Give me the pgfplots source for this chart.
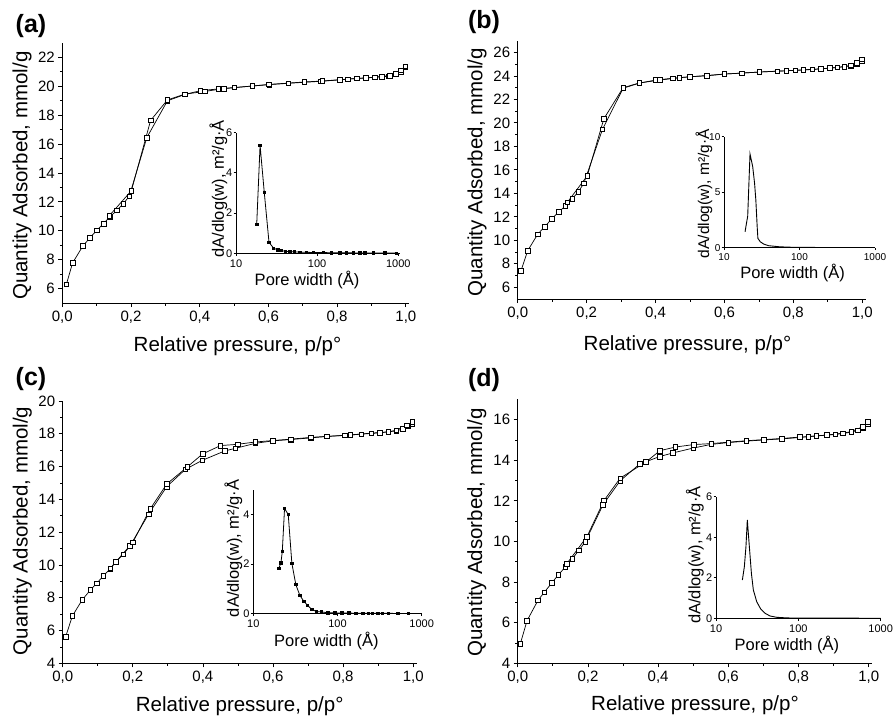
\documentclass[border=0pt]{standalone}
\usepackage{fontspec}
\setmainfont{Liberation Sans}
\usepackage{pgfplots}
\pgfplotsset{compat=1.18}
\pgfplotsset{
  mainax/.style={scale only axis, axis lines*=left, tick align=outside,
    xmin=0, xmax=1.01, xtick={0,0.2,0.4,0.6,0.8,1}, minor x tick num=1, minor y tick num=1,
    major tick length=4pt, minor tick length=2.5pt,
    /pgf/number format/assume math mode=true,
    tick label style={font=\fontsize{15}{15}\selectfont},
    x tick label style={/pgf/number format/fixed,/pgf/number format/fixed zerofill,/pgf/number format/precision=1,/pgf/number format/use comma},
    label style={font=\fontsize{20.5}{20.5}\selectfont, inner sep=0pt, anchor=center},
    axis line style={line width=0.9pt}, every tick/.style={black, line width=0.8pt},
    xlabel={Relative pressure, p/p°}, ylabel={Quantity Adsorbed, mmol/g}},
  iso/.style={black, line width=0.7pt, mark=square*, mark size=2.3pt, mark options={fill=white, line width=0.6pt, solid}},
  psdax/.style={scale only axis, axis lines*=left, tick align=outside, xmin=10, xmax=1000,
    xtick={10,100,1000}, xticklabels={10,100,1000}, xminorticks=false, yminorticks=false,
    major tick length=2.5pt,
    /pgf/number format/assume math mode=true,
    tick label style={font=\fontsize{11}{11}\selectfont, inner sep=1pt},
    x tick label style={yshift=-2.5pt},
    label style={font=\fontsize{16.5}{16.5}\selectfont, inner sep=0pt, anchor=center},
    axis line style={line width=0.9pt}, every tick/.style={black, line width=0.8pt},
    xlabel={Pore width (Å)}, ylabel={dA/dlog(w), m²/g·Å}},
  psd/.style={black, line width=0.8pt, mark=square*, mark size=1.2pt, mark options={fill=black}},
  psdl/.style={black, line width=0.9pt, no marks},
}
\begin{document}
\begin{tikzpicture}
\path[use as bounding box] (0,0) rectangle (893pt,-718pt);
% ---------------- (a) ----------------
\begin{axis}[mainax, at={(62.3pt,-303pt)}, anchor=south west, width=347pt, height=260pt,
  ymin=5, ymax=23, ytick={6,8,...,22},
  xlabel style={at={(axis description cs:0.505,-0.168)}},
  ylabel style={at={(axis description cs:-0.116,0.49)}}]
\addplot[iso] coordinates {
(0.012,6.3)(0.030,7.78)(0.060,8.95)(0.080,9.5)(0.100,10.03)(0.120,10.5)(0.139,10.97)(0.159,11.42)(0.178,11.88)(0.195,12.4)(0.246,16.45)(0.306,19.0)(0.357,19.44)(0.402,19.70)(0.454,19.82)(0.501,19.92)(0.553,20.02)(0.602,20.12)(0.658,20.21)(0.704,20.28)(0.753,20.35)(0.808,20.45)(0.857,20.55)(0.909,20.62)(0.949,20.70)(0.971,20.82)(0.986,21.0)(0.998,21.35)};
\addplot[iso] coordinates {
(0.998,21.4)(0.986,21.1)(0.971,20.88)(0.953,20.75)(0.930,20.68)(0.883,20.58)(0.831,20.50)(0.757,20.37)(0.704,20.30)(0.601,20.13)(0.470,19.84)(0.415,19.65)(0.357,19.46)(0.306,19.06)(0.257,17.64)(0.201,12.77)(0.137,11.05)};
\end{axis}
\begin{semilogxaxis}[psdax, at={(236pt,-253.3pt)}, anchor=south west, width=164pt, height=120.7pt,
  xmax=1050, ymin=0, ymax=6, ytick={0,2,4,6},
  xlabel style={at={(axis description cs:0.433,-0.221)}},
  ylabel style={at={(axis description cs:-0.108,0.533)}}]
\addplot[psd] coordinates {
(18.0,1.44)(19.8,5.37)(22.3,3.03)(25.5,0.55)(29.1,0.25)(32.9,0.17)(36.5,0.13)(40.9,0.10)(46.2,0.08)(52.8,0.07)(61.5,0.06)(74.3,0.05)(89.8,0.04)(119,0.035)(151,0.03)(191,0.03)(231,0.025)(279,0.02)(337,0.02)(388,0.02)(492,0.015)(685,0.015)(953,0.01)};
\end{semilogxaxis}
% ---------------- (b) ----------------
\begin{axis}[mainax, at={(517.7pt,-299pt)}, anchor=south west, width=348pt, height=258.3pt,
  ymin=5, ymax=27, ytick={6,8,...,26},
  xlabel style={at={(axis description cs:0.488,-0.177)}},
  ylabel style={at={(axis description cs:-0.117,0.49)}}]
\addplot[iso] coordinates {
(0.0097,7.42)(0.029,9.12)(0.058,10.51)(0.078,11.16)(0.099,11.82)(0.119,12.41)(0.138,12.92)(0.159,13.55)(0.176,14.14)(0.192,14.85)(0.246,19.45)(0.306,22.95)(0.353,23.39)(0.401,23.65)(0.45,23.8)(0.499,23.93)(0.549,24.01)(0.600,24.16)(0.651,24.24)(0.701,24.33)(0.753,24.41)(0.806,24.47)(0.855,24.55)(0.906,24.67)(0.948,24.78)(0.967,24.87)(0.984,25.0)(0.998,25.3)};
\addplot[iso] coordinates {
(0.998,25.42)(0.984,25.1)(0.967,24.9)(0.928,24.72)(0.88,24.6)(0.829,24.52)(0.78,24.44)(0.701,24.33)(0.600,24.16)(0.469,23.85)(0.413,23.65)(0.353,23.40)(0.306,23.0)(0.25,20.35)(0.202,15.5)(0.144,13.23)};
\end{axis}
\begin{semilogxaxis}[psdax, at={(724pt,-247.7pt)}, anchor=south west, width=151pt, height=111pt,
  ymin=0, ymax=10, ytick={0,5,10},
  tick label style={font=\fontsize{10}{10}\selectfont, inner sep=1pt},
  xlabel style={at={(axis description cs:0.454,-0.225)}},
  ylabel style={at={(axis description cs:-0.132,0.488)}, font=\fontsize{15.5}{15.5}\selectfont}]
\addplot[psdl] coordinates {
(19.0,1.44)(20.6,2.85)(22.1,8.44)(24.0,7.3)(25.4,5.8)(26.4,4.3)(27.5,1.9)(28.1,0.84)(30.2,0.54)(33.5,0.33)(39,0.18)(53,0.09)(70,0.05)(100,0.03)(200,0.02)(400,0.01)(700,0.01)(950,0.01)};
\end{semilogxaxis}
% ---------------- (c) ----------------
\begin{axis}[mainax, at={(62.7pt,-663.3pt)}, anchor=south west, width=354pt, height=262.3pt,
  ymin=4, ymax=20, ytick={4,6,...,20},
  xlabel style={at={(axis description cs:0.50,-0.162)}},
  ylabel style={at={(axis description cs:-0.114,0.505)}}]
\addplot[iso] coordinates {
(0.0086,5.63)(0.0276,6.89)(0.056,7.88)(0.079,8.47)(0.097,8.88)(0.116,9.33)(0.136,9.77)(0.152,10.2)(0.173,10.65)(0.192,11.16)(0.245,13.1)(0.297,14.78)(0.35,15.83)(0.398,16.38)(0.462,16.95)(0.492,17.11)(0.55,17.42)(0.6,17.57)(0.65,17.65)(0.707,17.75)(0.754,17.84)(0.805,17.90)(0.852,17.98)(0.905,18.06)(0.952,18.18)(0.971,18.30)(0.986,18.45)(0.997,18.62)};
\addplot[iso] coordinates {
(0.997,18.72)(0.982,18.52)(0.952,18.22)(0.929,18.12)(0.881,18.04)(0.82,17.93)(0.707,17.78)(0.65,17.67)(0.6,17.59)(0.55,17.5)(0.499,17.36)(0.45,17.28)(0.399,16.77)(0.355,15.97)(0.297,14.94)(0.25,13.43)(0.2,11.38)(0.136,9.8)};
\end{axis}
\begin{semilogxaxis}[psdax, at={(253.3pt,-613.7pt)}, anchor=south west, width=168.4pt, height=124.2pt,
  ymin=0, ymax=5, ytick={0,2,4},
  xlabel style={at={(axis description cs:0.434,-0.22)}},
  ylabel style={at={(axis description cs:-0.118,0.527)}}]
\addplot[psd] coordinates {
(20.1,1.83)(21.3,2.05)(22.1,2.51)(23.5,4.24)(26.0,3.99)(28.7,2.03)(32.0,1.17)(35.7,0.74)(39.8,0.50)(44.0,0.34)(49.6,0.17)(56.3,0.09)(64.5,0.07)(77,0.04)(93,0.03)(113,0.03)(136,0.025)(165,0.02)(201,0.02)(231,0.02)(260,0.02)(303,0.02)(342,0.015)(400,0.015)(520,0.01)(700,0.01)};
\end{semilogxaxis}
% ---------------- (d) ----------------
\begin{axis}[mainax, at={(517.7pt,-663.3pt)}, anchor=south west, width=354.6pt, height=264pt,
  ymin=4, ymax=17, ytick={4,6,...,16},
  xlabel style={at={(axis description cs:0.50,-0.16)}},
  ylabel style={at={(axis description cs:-0.115,0.495)}}]
\addplot[iso] coordinates {
(0.0076,4.97)(0.0266,6.10)(0.058,7.11)(0.076,7.50)(0.097,7.96)(0.116,8.36)(0.136,8.75)(0.155,9.14)(0.174,9.56)(0.192,9.97)(0.243,11.81)(0.292,12.99)(0.347,13.81)(0.404,14.18)(0.442,14.36)(0.5,14.6)(0.551,14.78)(0.6,14.87)(0.651,14.94)(0.701,15.0)(0.752,15.05)(0.803,15.12)(0.85,15.2)(0.905,15.27)(0.95,15.38)(0.969,15.48)(0.983,15.6)(0.997,15.78)};
\addplot[iso] coordinates {
(0.997,15.88)(0.983,15.65)(0.95,15.41)(0.926,15.33)(0.881,15.24)(0.828,15.16)(0.803,15.14)(0.752,15.07)(0.651,14.96)(0.551,14.82)(0.501,14.77)(0.449,14.65)(0.405,14.47)(0.365,13.91)(0.292,13.12)(0.246,12.02)(0.197,10.23)(0.14,8.91)};
\end{axis}
\begin{semilogxaxis}[psdax, at={(716pt,-618.3pt)}, anchor=south west, width=164.7pt, height=121.6pt,
  ymin=0, ymax=6, ytick={0,2,4,6},
  xlabel style={at={(axis description cs:0.431,-0.222)}},
  ylabel style={at={(axis description cs:-0.128,0.52)}}]
\addplot[psdl] coordinates {
(20.9,1.89)(22.1,2.55)(23.1,3.54)(24.0,4.85)(25.4,3.54)(26.9,2.22)(28.4,1.40)(31.2,0.82)(34.9,0.46)(39.4,0.25)(45.3,0.115)(54.6,0.05)(72,0.02)(100,0.01)(200,0.008)(400,0.006)(800,0.005)(1000,0.005)};
\end{semilogxaxis}
% panel labels
\node[font=\fontsize{25}{25}\selectfont\bfseries, inner sep=0pt] at (31pt,-26.5pt) {(a)};
\node[font=\fontsize{25}{25}\selectfont\bfseries, inner sep=0pt] at (484pt,-22.5pt) {(b)};
\node[font=\fontsize{25}{25}\selectfont\bfseries, inner sep=0pt] at (31pt,-379pt) {(c)};
\node[font=\fontsize{25}{25}\selectfont\bfseries, inner sep=0pt] at (484pt,-380pt) {(d)};
\end{tikzpicture}
\end{document}
